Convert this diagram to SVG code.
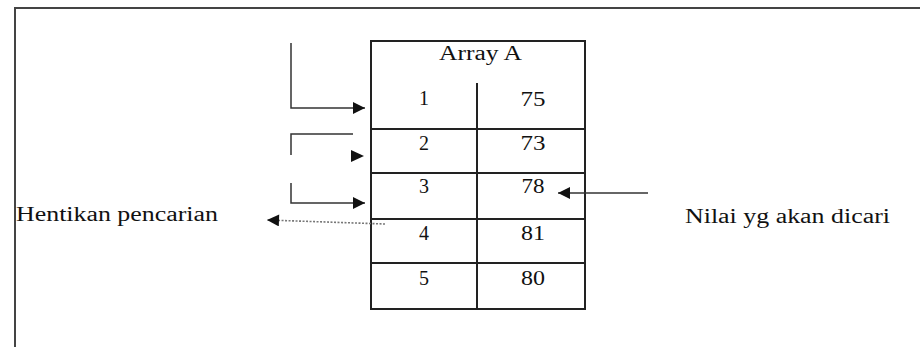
<svg xmlns="http://www.w3.org/2000/svg" width="920" height="347" viewBox="0 0 920 347">
<defs>
<style>
.t{font-family:"Liberation Serif","DejaVu Serif",serif;font-size:20px;fill:#111;text-anchor:middle}
.tl{font-family:"Liberation Serif","DejaVu Serif",serif;font-size:20px;fill:#111}
.cell{fill:#fff;stroke:#222;stroke-width:2}
.ln{fill:none;stroke:#333;stroke-width:1.5}
.frame{fill:none;stroke:#444;stroke-width:2}
.dot{fill:none;stroke:#777;stroke-width:1.6;stroke-dasharray:2 1.5}
</style>
<marker id="ah" viewBox="0 0 10 10" refX="10" refY="5" markerWidth="14" markerHeight="12" markerUnits="userSpaceOnUse" orient="auto"><path d="M0,0L10,5L0,10z" fill="#111"/></marker>
</defs>
<rect width="920" height="347" fill="#fff"/>
<g id="frame"><path class="frame" d="M15,347V8H920"/></g>
<g id="array">
<rect class="cell" x="371" y="41" width="214" height="268"/>
<path class="ln" style="stroke:#222;stroke-width:2" d="M477,83V309M371,129H585M371,173H585M371,219H585M371,263H585"/>
<text class="tl" x="439" y="60" textLength="83" lengthAdjust="spacingAndGlyphs">Array A</text>
<text class="t" x="424" y="105">1</text><text class="t" x="533" y="106" textLength="25" lengthAdjust="spacingAndGlyphs">75</text>
<text class="t" x="424" y="150">2</text><text class="t" x="533" y="150" textLength="25" lengthAdjust="spacingAndGlyphs">73</text>
<text class="t" x="424" y="193">3</text><text class="t" x="533" y="193" textLength="23" lengthAdjust="spacingAndGlyphs">78</text>
<text class="t" x="424" y="240">4</text><text class="t" x="533" y="240" textLength="24" lengthAdjust="spacingAndGlyphs">81</text>
<text class="t" x="424" y="285">5</text><text class="t" x="533" y="285" textLength="24" lengthAdjust="spacingAndGlyphs">80</text>
</g>
<g id="label-stop"><text class="tl" x="16" y="221" textLength="202" lengthAdjust="spacingAndGlyphs">Hentikan pencarian</text></g>
<g id="label-search"><text class="tl" x="685" y="223" textLength="205" lengthAdjust="spacingAndGlyphs">Nilai yg akan dicari</text></g>
<g id="connectors">
<path class="ln" d="M291,43V108H365" marker-end="url(#ah)"/>
<path class="ln" d="M353,134H291V155"/>
<path d="M351,150L364,156L351,162z" fill="#111"/>
<path class="ln" d="M291,183V203H365" marker-end="url(#ah)"/>
<path class="ln" d="M648,193H558" marker-end="url(#ah)"/>
<path class="dot" d="M385,224L267,220" marker-end="url(#ah)"/>
</g>
</svg>
